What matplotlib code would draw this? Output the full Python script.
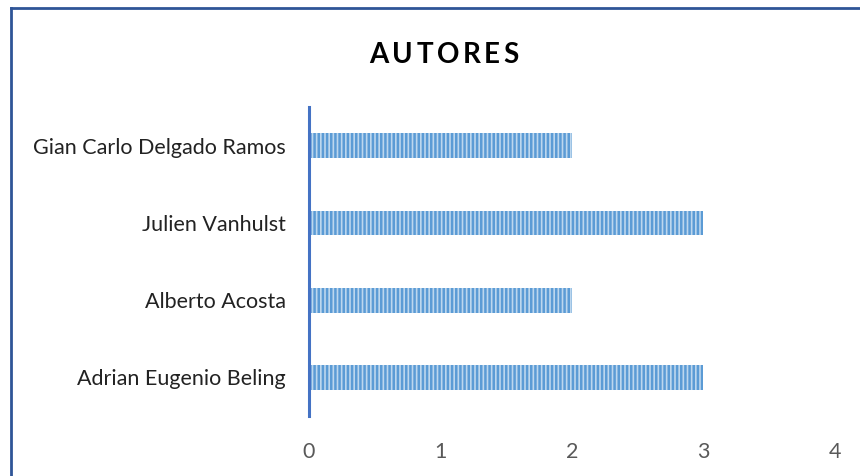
import numpy as np
import matplotlib.pyplot as plt
from matplotlib.lines import Line2D

authors = ["Adrian Eugenio Beling", "Alberto Acosta", "Julien Vanhulst", "Gian Carlo Delgado Ramos"]
counts = [3, 2, 3, 2]
xticks = [0, 1, 2, 3, 4]
title = "AUTORES"

plt.rcParams['font.family'] = ['Lato', 'DejaVu Sans']
plt.rcParams['hatch.linewidth'] = 1.8

fig = plt.figure(figsize=(8.6, 4.76), dpi=100)
ax = fig.add_axes([0.3593, 0.126, 0.6116, 0.649])

y = np.arange(len(authors))
ax.barh(y, counts, height=0.32, color="#BDD7EE", edgecolor="#5B9BD5",
        linewidth=0, hatch="||||")

ax.set_xlim(0, 4)
ax.set_ylim(-0.5, len(authors) - 0.5)
ax.set_xticks(xticks)
ax.set_yticks(y)
ax.set_yticklabels(authors)
ax.tick_params(axis="x", length=0, pad=18.5, labelsize=15.5, labelcolor="#595959")
ax.tick_params(axis="y", length=0, pad=16.5, labelsize=15.5, labelcolor="#222222")
for s in ["top", "right", "bottom"]:
    ax.spines[s].set_visible(False)
ax.spines["left"].set_color("#4472C4")
ax.spines["left"].set_linewidth(2.2)

# title with spread letters
fig.canvas.draw()
r = fig.canvas.get_renderer()
spacing = 3.6
widths = []
texts = []
for ch in title:
    t = fig.text(0, 0.885, ch, fontsize=20, fontweight="bold", color="#000000", va="center")
    texts.append(t)
    widths.append(t.get_window_extent(r).width)
total = sum(widths) + spacing * (len(title) - 1)
x0 = 444 - total / 2
for t, w in zip(texts, widths):
    t.set_x(x0 / 860)
    x0 += w + spacing

# chart border
fig.add_artist(Line2D([11 / 860, 1], [1 - 8 / 476, 1 - 8 / 476], color="#2F5597", lw=2))
fig.add_artist(Line2D([11 / 860, 11 / 860], [0, 1 - 8 / 476], color="#2F5597", lw=2))

fig.savefig("out.png", dpi=100)
